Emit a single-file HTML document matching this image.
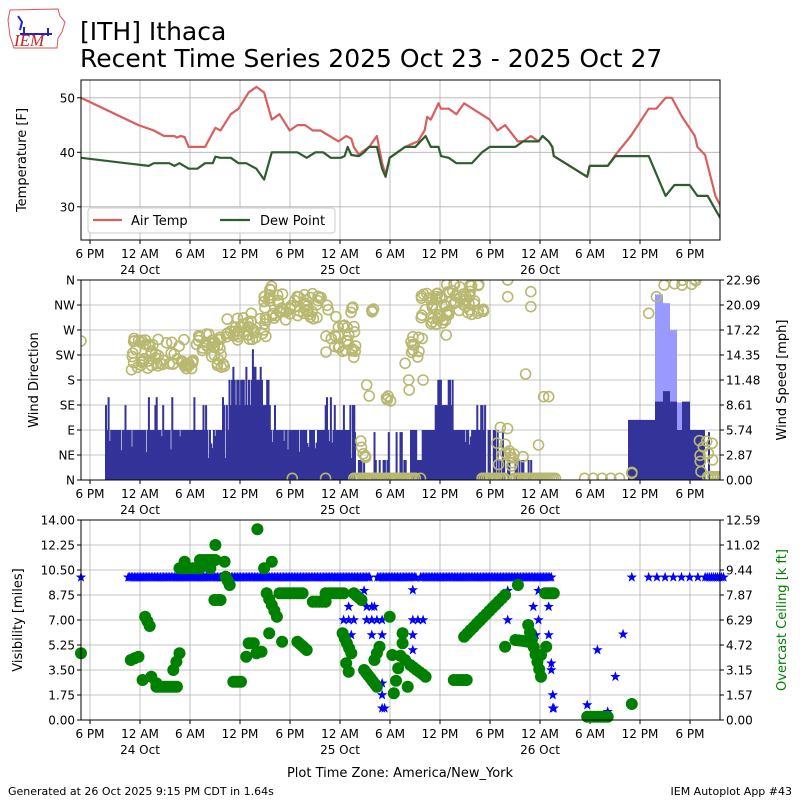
<!DOCTYPE html>
<html><head><meta charset="utf-8"><style>
body{margin:0;background:#fff;width:800px;height:800px;overflow:hidden}
svg{font-family:"DejaVu Sans","Liberation Sans",sans-serif}
</style></head><body>
<svg id="s" width="800" height="800" xmlns="http://www.w3.org/2000/svg">
<rect width="800" height="800" fill="#fff"/>
<g id="logo">
<path d="M10,10 L58,9 L60,16 L65,22 L62,32 L58,38 L57,48 L14,48 L10,36 L8,20 Z" fill="#fff" stroke="#d55" stroke-width="1"/>
<path d="M20,34 L52,34 M24,27 L24,34 M48,28 L48,36 M18,16 L22,22 L20,30" stroke="#22c" stroke-width="2" fill="none"/>
<text x="14" y="46" font-family="Liberation Serif" font-style="italic" font-size="17" fill="#c22">IEM</text>
</g>
<text x="80" y="40" font-size="25">[ITH] Ithaca</text>
<text x="80" y="67" font-size="25">Recent Time Series 2025 Oct 23 - 2025 Oct 27</text>
<g id="g"></g>
<text x="400" y="777" font-size="13" text-anchor="middle">Plot Time Zone: America/New_York</text>
<text x="8" y="795" font-size="11">Generated at 26 Oct 2025 9:15 PM CDT in 1.64s</text>
<text x="792" y="795" font-size="11" text-anchor="end">IEM Autoplot App #43</text>
</svg>
<script>
var g=document.getElementById('g'),h='';
var L=81,R=720;
var seed=7;function rnd(){seed=(seed*16807)%2147483647;return (seed-1)/2147483646;}
function xl(z){return z/1.95;}
var tl=['6 PM','12 AM','6 AM','12 PM','6 PM','12 AM','6 AM','12 PM','6 PM','12 AM','6 AM','12 PM','6 PM'];
function xaxis(top,bot){
 for(var k=0;k<13;k++){var x=90+50*k;
  h+='<line x1="'+x+'" y1="'+top+'" x2="'+x+'" y2="'+bot+'" stroke="#b0b0b0" stroke-width="0.8"/>';
  h+='<line x1="'+x+'" y1="'+bot+'" x2="'+x+'" y2="'+(bot+4)+'" stroke="#000"/>';
  h+='<text x="'+x+'" y="'+(bot+18)+'" font-size="12" text-anchor="middle">'+tl[k]+'</text>';}
 ['24 Oct','25 Oct','26 Oct'].forEach(function(t,i){h+='<text x="'+(140+200*i)+'" y="'+(bot+34)+'" font-size="12" text-anchor="middle">'+t+'</text>';});
}
function hgrid(y,lab,rl){h+='<line x1="'+L+'" y1="'+y+'" x2="'+R+'" y2="'+y+'" stroke="#b0b0b0" stroke-width="0.8"/>';
 h+='<line x1="'+(L-4)+'" y1="'+y+'" x2="'+L+'" y2="'+y+'" stroke="#000"/><text x="'+(L-6)+'" y="'+(y+4.5)+'" font-size="12" text-anchor="end">'+lab+'</text>';
 if(rl!==undefined){h+='<line x1="'+R+'" y1="'+y+'" x2="'+(R+4)+'" y2="'+y+'" stroke="#000"/><text x="'+(R+6)+'" y="'+(y+4.5)+'" font-size="12">'+rl+'</text>';}}
xaxis(80,240);
function ty(t){return 152.3-(t-40)*5.45;}
[30,40,50].forEach(function(t){hgrid(ty(t),t);});
var air=[[158,50],[270,45],[300,44],[320,43],[340,43],[345,42.7],[352,43],[360,42.8],[368,41],[400,41],[420,44.5],[430,44],[450,47],[465,48],[485,51],[500,52],[515,51],[530,46],[545,47],[565,44],[580,45],[595,45],[610,44],[625,44],[660,42],[675,43],[685,42.5],[690,41],[700,39.5],[705,40],[720,41],[735,43],[745,38],[752,36],[760,39],[790,41],[815,42],[828,44],[833,46.5],[840,46],[855,49],[860,48],[875,48],[890,47],[905,49],[955,46],[970,44],[985,45],[1010,42],[1020,42],[1035,43],[1050,42],[1058,43],[1070,42],[1077,41],[1080,39.3],[1145,35.5],[1150,37.5],[1185,37.5],[1200,39.5],[1230,43],[1265,48],[1280,48],[1298,50],[1310,50],[1330,46.5],[1355,43],[1360,41],[1375,39.5],[1395,32],[1411,29]];
var dew=[[158,39],[290,37.5],[300,38],[330,38],[340,37.5],[350,38],[368,37],[385,37],[400,38],[415,38],[420,39.2],[430,39],[450,39],[465,38],[480,38],[500,37],[515,35],[530,40],[580,40],[598,39],[615,40],[630,40],[645,39],[665,39],[672,39.3],[678,41],[685,39.5],[700,39.3],[710,40],[720,41],[735,41],[745,37],[752,35.5],[760,39],[790,41],[810,41],[820,42],[830,43],[840,41],[855,41],[860,39.3],[875,39],[890,38],[920,38],[940,40],[955,41],[1005,41],[1020,42],[1050,42],[1058,43],[1070,42],[1077,41],[1080,39.3],[1145,35.5],[1150,37.5],[1185,37.5],[1200,39.3],[1265,39.3],[1298,32],[1315,34],[1345,34],[1360,32],[1380,32],[1398,29],[1411,27]];
function pl(a,c){return '<polyline fill="none" stroke="'+c+'" stroke-width="2.2" stroke-linejoin="round" points="'+a.map(function(p){return xl(p[0]).toFixed(1)+','+ty(p[1]).toFixed(1);}).join(' ')+'"/>';}
h+='<svg x="'+L+'" y="80" width="'+(R-L)+'" height="160" viewBox="'+L+' 80 '+(R-L)+' 160" overflow="hidden">'+pl(air,'#d95f5f')+pl(dew,'#2e5e30')+'</svg>';
h+='<rect x="'+L+'" y="80" width="'+(R-L)+'" height="160" fill="none" stroke="#000" stroke-width="1"/>';
h+='<rect x="88" y="208" width="247" height="25" rx="3" fill="#fff" fill-opacity="0.85" stroke="#ccc"/>';
h+='<line x1="93" y1="220" x2="122" y2="220" stroke="#d95f5f" stroke-width="2.2"/><text x="131" y="225" font-size="13">Air Temp</text>';
h+='<line x1="220" y1="220" x2="250" y2="220" stroke="#2e5e30" stroke-width="2.2"/><text x="260" y="225" font-size="13">Dew Point</text>';
h+='<text transform="translate(26,160) rotate(-90)" font-size="13" text-anchor="middle">Temperature [F]</text>';
xaxis(280,480);
var dl=['N','NE','E','SE','S','SW','W','NW','N'];
for(var i=0;i<9;i++){hgrid(480-25*i,dl[i],(2.87*i).toFixed(2));}
function sy(m){return 480-m*200/22.96;}
var bars='';
function seg(x1,x2,f){for(var x=x1;x<x2;x+=1.3){var m=f(x);if(m>0)bars+='<rect x="'+x.toFixed(1)+'" y="'+sy(m).toFixed(1)+'" width="2" height="'+(480-sy(m)).toFixed(1)+'" fill="#333399"/>';}}
seg(105,354,function(x){var r=rnd();var b=5.74;
 if(x>228&&x<268){b=r<0.5?11.5:(r<0.7?13:8.6);if(r>0.95)b=15;}
 else if(r<0.12)b=8.6;else if(r<0.25)b=2.3+rnd()*3;else if(r<0.3)b=9.5;return b;});
seg(354,410,function(x){var r=rnd();return r<0.25?(r<0.08?5.5:2.3):(r<0.4?0.8:0);});
seg(410,485,function(x){var r=rnd();var b=5.74;if(x>434&&x<452)b=r<0.6?11.5:8.6;else if(r<0.15)b=8.6;else if(r<0.3)b=2.3+rnd()*3;if(x<425&&r<0.5)b=2.3;return b;});
seg(485,512,function(x){var r=rnd();return r<0.3?5.74:(r<0.6?2.3:0);});
seg(512,532,function(x){var r=rnd();return r<0.3?2.3:0;});
h+=bars;
function bar(x1,x2,m,c){h+='<rect x="'+x1+'" y="'+sy(m)+'" width="'+(x2-x1)+'" height="'+(480-sy(m))+'" fill="'+c+'"/>';}
bar(655,663,21.3,'#9999ff');bar(663,670,20.3,'#9999ff');bar(670,677,17.2,'#9999ff');bar(677,682,8.9,'#9999ff');
bar(628,637,6.9,'#333399');bar(637,655,6.9,'#333399');bar(655,663,9,'#333399');bar(663,670,10.2,'#333399');bar(670,677,9,'#333399');bar(677,682,5.74,'#333399');bar(682,690,9,'#333399');bar(690,705,5.74,'#333399');bar(708,710,5.5,'#333399');
var cir='';
function c2(zx,zy){cir+='<circle cx="'+xl(zx).toFixed(1)+'" cy="'+(zy/3+270).toFixed(1)+'" r="5" fill="none" stroke="#b8b870" stroke-width="1.6"/>';}
function cl(x1,x2,y1,y2,n){for(var i=0;i<n;i++)c2(x1+rnd()*(x2-x1),y1+rnd()*(y2-y1));}
c2(158,213);cl(255,380,205,300,60);cl(380,440,185,265,25);cl(420,440,265,300,6);cl(440,520,140,210,35);c2(490,130);c2(515,95);cl(520,530,40,60,3);
cl(515,640,70,150,55);cl(635,695,165,250,25);c2(655,140);cl(680,690,110,140,3);c2(690,262);c2(715,345);c2(720,378);cl(725,730,110,148,3);cl(750,762,375,395,4);
c2(790,280);c2(797,330);c2(798,360);cl(800,825,200,265,10);c2(825,330);cl(820,880,70,165,35);c2(870,195);cl(870,945,40,135,40);c2(990,80);c2(990,30);c2(1035,110);c2(1035,65);c2(1025,312);c2(1060,380);c2(1070,380);
cl(703,718,505,565,5);c2(1050,525);c2(1020,560);cl(965,1005,460,600,14);cl(1225,1235,605,615,1);
for(var x=690;x<812;x+=4)c2(x,625);for(x=940;x<985;x+=4)c2(x,625);for(x=1003;x<1085;x+=4)c2(x,625);c2(570,625);c2(635,625);c2(820,625);
for(x=1140;x<1220;x+=17)c2(x,625);c2(1232,610);c2(1265,130);c2(1280,80);c2(1295,45);cl(1310,1365,28,48,6);cl(1358,1390,510,610,9);for(x=1380;x<1412;x+=5)c2(x,620);
h+='<svg x="'+L+'" y="280" width="'+(R-L)+'" height="200" viewBox="'+L+' 280 '+(R-L)+' 200" overflow="hidden">'+cir+'</svg>';
h+='<rect x="'+L+'" y="280" width="'+(R-L)+'" height="200" fill="none" stroke="#000" stroke-width="1"/>';
h+='<text transform="translate(38,380) rotate(-90)" font-size="13" text-anchor="middle">Wind Direction</text>';
h+='<text transform="translate(786,380) rotate(-90)" font-size="13" text-anchor="middle">Wind Speed [mph]</text>';
xaxis(520,720);
var rv=['0.00','1.57','3.15','4.72','6.29','7.87','9.44','11.02','12.59'];
for(i=0;i<9;i++){hgrid(720-25*i,(1.75*i).toFixed(2),rv[i]);}
var st='',gc='';
function sp(x,y){st+='<use href="#star" x="'+x.toFixed(1)+'" y="'+y.toFixed(1)+'"/>';}
function s3(zx,zy){sp(xl(zx),zy/3+500);}
function g3(zx,zy){gc+='<circle cx="'+xl(zx).toFixed(1)+'" cy="'+(zy/3+500).toFixed(1)+'" r="6" fill="#008000"/>';}
s3(158,232);for(x=250;x<1076;x+=3){if((x>722&&x<735)||(x>812&&x<820))continue;s3(x,232);}
[[670,360],[680,360],[690,360],[680,320],[685,405],[710,272],[715,320],[725,320],[730,320],[715,360],[725,360],[735,360],[745,360],[725,405],[745,405],[745,550],[745,585],[745,625],[750,625],[805,270],[805,360],[815,360],[825,360],[805,405],[805,450],[990,272],[990,360],[1040,320],[1045,405],[1050,360],[1050,272],[1070,320],[1070,405],[1075,490],[1075,510],[1078,585],[1078,625],[1080,625],[1145,615],[1165,450],[1185,635],[1200,530],[1215,403],[1232,232]].forEach(function(p){s3(p[0],p[1]);});
for(x=1265;x<1366;x+=16)s3(x,232);for(x=1375;x<1412;x+=4)s3(x,232);
function gl(x1,x2,y1,y2,n){for(var i=0;i<n;i++)g3(x1+(x2-x1)*i/Math.max(1,n-1),y1+(y2-y1)*i/Math.max(1,n-1));}
g3(158,460);gl(255,270,480,470,3);g3(278,540);gl(283,292,350,378,3);gl(295,305,530,550,2);gl(305,345,560,560,9);gl(338,350,510,460,3);
gl(350,390,205,205,7);g3(360,185);gl(390,420,180,180,6);g3(410,205);gl(418,430,300,300,3);g3(420,135);g3(438,185);gl(440,448,230,255,3);gl(455,470,545,545,4);
g3(480,470);gl(485,495,430,430,3);g3(500,460);g3(510,455);g3(502,88);g3(515,205);gl(520,540,280,350,5);g3(530,185);gl(545,590,280,280,9);g3(525,400);g3(550,425);gl(580,598,425,450,5);
gl(610,635,305,305,5);gl(635,670,280,280,7);gl(668,685,400,460,5);gl(675,680,490,515,2);gl(690,705,280,300,4);gl(710,735,510,560,7);gl(730,740,480,440,3);g3(760,350);g3(765,465);gl(768,785,580,430,5);gl(785,795,400,560,3);gl(800,830,495,530,6);
gl(885,910,540,540,5);gl(905,985,410,285,14);g3(985,440);gl(1005,1030,420,425,5);g3(1010,255);gl(1030,1055,375,530,8);gl(1055,1065,465,440,2);gl(1063,1080,280,280,5);
gl(1145,1185,650,650,7);g3(1232,612);
h+=st+gc;
h+='<rect x="'+L+'" y="520" width="'+(R-L)+'" height="200" fill="none" stroke="#000" stroke-width="1"/>';
h+='<text transform="translate(22,620) rotate(-90)" font-size="13" text-anchor="middle">Visibility [miles]</text>';
h+='<text transform="translate(786,620) rotate(-90)" font-size="13" fill="green" text-anchor="middle">Overcast Ceiling [k ft]</text>';
g.innerHTML='<defs><path id="star" d="M0,-5.5 L1.3,-1.8 5.2,-1.7 2.1,0.7 3.2,4.5 0,2.2 -3.2,4.5 -2.1,0.7 -5.2,-1.7 -1.3,-1.8Z" fill="#0000ff"/></defs>'+h;
</script>
</body></html>
